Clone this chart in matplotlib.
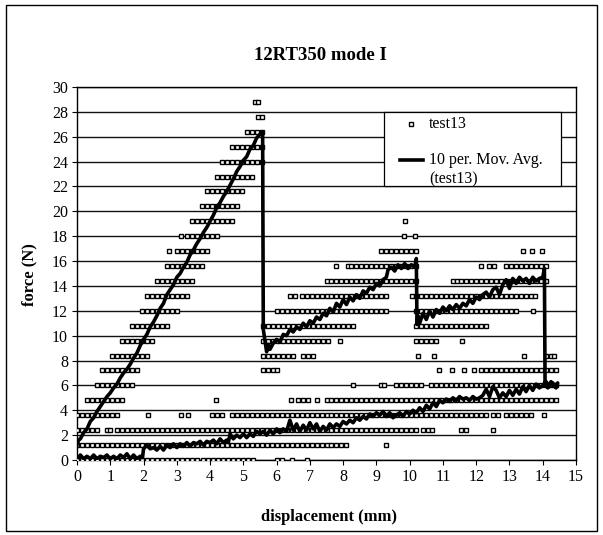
import matplotlib
matplotlib.use("Agg")
from matplotlib import pyplot as plt
from matplotlib.patches import Rectangle

SERIF = ["Liberation Serif", "DejaVu Serif"]

# quantised load-cell levels (N) and the displacements (mm) where test13 samples sit on them
force_levels = [0.0, 1.2, 2.4, 3.6, 4.8, 6.0, 7.2, 8.4, 9.6, 10.8, 12.0, 13.2,
                14.4, 15.6, 16.8, 18.0, 19.2, 20.4, 21.6, 22.8, 24.0, 25.2, 26.4, 27.6, 28.8]
x_by_level = [
    # 0.0
    [0, .15, .3, .45, .6, .75, .9, 1.05, 1.2, 1.35, 1.5, 1.65, 1.8, 1.95, 2.1, 2.25, 2.4, 2.55, 2.7,
     2.85, 3.0, 3.15, 3.3, 3.45, 3.6, 3.8, 3.95, 4.1, 4.25, 4.4, 4.55, 4.7, 4.85, 5.0, 5.15, 5.3,
     6.0, 6.15, 6.45, 6.9],
    # 1.2
    [0, .15, .3, .45, .6, .75, .9, 1.05, 1.2, 1.35, 1.5, 1.65, 1.8, 1.95, 2.1, 2.25, 2.4, 2.55, 2.7,
     2.85, 3.0, 3.15, 3.3, 3.45, 3.6, 3.75, 3.9, 4.05, 4.2, 4.35, 4.5, 4.65, 4.8, 4.95, 5.1, 5.25,
     5.4, 5.55, 5.7, 5.85, 6.0, 6.15, 6.3, 6.45, 6.6, 6.75, 6.9, 7.05, 7.2, 7.35, 7.5, 7.65, 7.8,
     7.95, 8.1, 9.3],
    # 2.4
    [0, .15, .3, .45, .6, .9, 1.0, 1.2, 1.35, 1.5, 1.65, 1.8, 1.95, 2.1, 2.25, 2.4, 2.55, 2.7, 2.85,
     3.0, 3.15, 3.3, 3.45, 3.6, 3.75, 3.9, 4.05, 4.2, 4.35, 4.5, 4.65, 4.8, 4.95, 5.1, 5.25, 5.4,
     5.55, 5.7, 5.85, 6.0, 6.15, 6.3, 6.45, 6.6, 6.75, 6.9, 7.05, 7.2, 7.35, 7.5, 7.65, 7.8, 7.95,
     8.1, 8.25, 8.4, 8.55, 8.7, 8.85, 9.0, 9.15, 9.3, 9.45, 9.6, 9.75, 9.9, 10.05, 10.2,
     10.4, 10.55, 10.67, 11.55, 11.7, 12.5],
    # 3.6
    [0, .15, .3, .45, .6, .75, .9, 1.05, 1.2, 2.13, 3.12, 3.35, 4.05, 4.2, 4.35,
     4.65, 4.8, 4.95, 5.1, 5.25, 5.4, 5.55, 5.7, 5.85, 6.0, 6.15, 6.3, 6.45, 6.6, 6.75, 6.9, 7.05,
     7.2, 7.35, 7.5, 7.65, 7.8, 7.95, 8.1, 8.25, 8.4, 8.55, 8.7, 8.85, 9.0, 9.15, 9.3, 9.45, 9.6,
     9.75, 9.9, 10.05, 10.2, 10.35, 10.5, 10.65, 10.8, 10.95, 11.1, 11.25, 11.4, 11.55, 11.7,
     11.85, 12.0, 12.15, 12.3, 12.5, 12.65, 12.9, 13.05, 13.2, 13.35, 13.5, 13.65, 14.05],
    # 4.8
    [.3, .45, .6, .75, .9, 1.05, 1.2, 1.35, 4.18, 6.44, 6.65, 6.8, 6.94, 7.22,
     7.5, 7.65, 7.8, 7.95, 8.1, 8.25, 8.4, 8.55, 8.7, 8.85, 9.0, 9.15, 9.3, 9.45, 9.6, 9.75, 9.9,
     10.05, 10.2, 10.35, 10.5, 10.65, 10.8, 10.95, 11.1, 11.25, 11.4, 11.55, 11.7, 11.85, 12.0,
     12.15, 12.3, 12.45, 12.6, 12.75, 12.9, 13.05, 13.2, 13.35, 13.5, 13.65, 13.8, 13.95, 14.1,
     14.25, 14.4],
    # 6.0
    [.6, .75, .9, 1.05, 1.2, 1.35, 1.5, 1.65, 8.3, 9.13, 9.22, 9.58, 9.75, 9.9, 10.05, 10.2, 10.35,
     10.65, 10.8, 10.95, 11.1, 11.25, 11.4, 11.55, 11.7, 11.85, 12.0, 12.15, 12.3, 12.45, 12.6,
     12.75, 12.9, 13.05, 13.2, 13.35, 13.5, 13.65, 13.8, 13.95, 14.1, 14.25, 14.4],
    # 7.2
    [.75, .9, 1.05, 1.2, 1.35, 1.5, 1.65, 1.8, 5.6, 5.75, 5.9, 6.0, 10.87, 11.27, 11.63, 11.93,
     12.15, 12.3, 12.45, 12.6, 12.75, 12.9, 13.05, 13.2, 13.35, 13.5, 13.65, 13.8, 13.95, 14.1,
     14.25, 14.4],
    # 8.4
    [1.05, 1.2, 1.35, 1.5, 1.65, 1.8, 1.95, 2.1, 5.6, 5.75, 5.9, 6.05, 6.2, 6.35, 6.5, 6.8, 6.95,
     7.1, 10.25, 10.72, 13.45, 14.1, 14.25, 14.35],
    # 9.6
    [1.35, 1.5, 1.65, 1.8, 1.95, 2.1, 2.25, 5.6, 5.75, 5.9, 6.05, 6.2, 6.35, 6.5, 6.65, 6.8, 6.95,
     7.1, 7.25, 7.4, 7.55, 7.92, 10.2, 10.35, 10.5, 10.65, 10.8, 11.56],
    # 10.8
    [1.65, 1.8, 1.95, 2.1, 2.25, 2.4, 2.55, 2.7, 5.6, 5.75, 5.9, 6.05, 6.2, 6.35, 6.5, 6.65, 6.8,
     6.95, 7.1, 7.25, 7.4, 7.55, 7.7, 7.85, 8.0, 8.15, 8.3, 10.2, 10.35, 10.5, 10.65, 10.8, 10.95,
     11.1, 11.25, 11.4, 11.55, 11.7, 11.85, 12.0, 12.15, 12.3],
    # 12.0
    [1.95, 2.1, 2.25, 2.4, 2.55, 2.7, 2.85, 3.0, 6.0, 6.15, 6.3, 6.45, 6.6, 6.75, 6.9, 7.05, 7.2,
     7.35, 7.5, 7.65, 7.8, 7.95, 8.1, 8.25, 8.4, 8.55, 8.7, 8.85, 9.0, 9.15, 9.3, 10.2, 10.35,
     10.5, 10.65, 10.8, 10.95, 11.1, 11.25, 11.4, 11.55, 11.7, 11.85, 12.0, 12.15, 12.3, 12.45,
     12.6, 12.75, 12.9, 13.06, 13.2, 13.72],
    # 13.2
    [2.1, 2.25, 2.4, 2.55, 2.7, 2.85, 3.0, 3.15, 3.3, 6.4, 6.55, 6.75, 6.9, 7.05, 7.2, 7.35, 7.5,
     7.65, 7.8, 7.95, 8.1, 8.25, 8.4, 8.55, 8.7, 8.85, 9.0, 9.15, 9.3, 10.06, 10.2, 10.35, 10.5,
     10.65, 10.8, 10.95, 11.1, 11.25, 11.4, 11.55, 11.7, 11.85, 12.0, 12.15, 12.3, 12.45, 12.6,
     12.75, 12.9, 13.05, 13.2, 13.35, 13.5, 13.65, 13.76],
    # 14.4
    [2.4, 2.55, 2.7, 2.85, 3.0, 3.15, 3.3, 3.45, 7.5, 7.65, 7.8, 7.95, 8.1, 8.25, 8.4, 8.55, 8.7,
     8.85, 9.0, 9.15, 9.3, 9.45, 9.6, 9.75, 9.9, 10.05, 10.2, 11.3, 11.42, 11.55, 11.7, 11.85,
     12.0, 12.15, 12.3, 12.45, 12.6, 12.75, 12.9, 13.05, 13.2, 13.35, 13.5, 13.65, 13.8, 13.95,
     14.1],
    # 15.6
    [2.7, 2.85, 3.0, 3.15, 3.3, 3.45, 3.6, 3.75, 7.8, 8.15, 8.25, 8.4, 8.55, 8.7, 8.85, 9.0, 9.15,
     9.3, 9.45, 9.6, 9.75, 9.9, 10.05, 10.2, 12.14, 12.37, 12.55, 12.9, 13.05, 13.2, 13.35, 13.5,
     13.65, 13.8, 13.95, 14.1],
    # 16.8
    [2.77, 3.0, 3.15, 3.3, 3.45, 3.6, 3.75, 3.9, 9.15, 9.3, 9.45, 9.6, 9.75, 9.9, 10.05, 10.2,
     13.4, 13.67, 13.98],
    # 18.0
    [3.12, 3.3, 3.45, 3.6, 3.75, 3.9, 4.05, 4.2, 9.83, 10.17],
    # 19.2
    [3.45, 3.6, 3.75, 3.9, 4.05, 4.2, 4.35, 4.5, 4.65, 9.86],
    # 20.4
    [3.75, 3.9, 4.05, 4.2, 4.35, 4.5, 4.65, 4.8],
    # 21.6
    [3.9, 4.05, 4.2, 4.35, 4.5, 4.65, 4.8, 4.95],
    # 22.8
    [4.2, 4.35, 4.5, 4.65, 4.8, 4.95, 5.1, 5.25],
    # 24.0
    [4.35, 4.5, 4.65, 4.8, 4.95, 5.1, 5.25, 5.4, 5.55],
    # 25.2
    [4.65, 4.8, 4.95, 5.1, 5.25, 5.4, 5.55],
    # 26.4
    [5.1, 5.25, 5.4, 5.55],
    # 27.6
    [5.45, 5.55],
    # 28.8
    [5.35, 5.45],
]

# 10-period moving average (test13), traced: load -> 3 crack jumps -> unload back to 0
avg_curve = [
    (0.0, 1.2), (0.05, 1.6), (0.1, 1.7), (0.2, 2.2), (0.3, 2.5), (0.4, 3.1), (0.5, 3.4), (0.6, 3.9),
    (0.7, 4.3), (0.8, 4.7), (0.9, 5.1), (1.0, 5.4), (1.1, 5.8), (1.2, 6.1), (1.3, 6.6), (1.4, 7.0),
    (1.5, 7.3), (1.6, 7.7), (1.7, 8.2), (1.8, 8.6), (1.9, 9.2), (2.0, 9.7), (2.1, 10.1), (2.2, 10.7),
    (2.3, 11.1), (2.4, 11.6), (2.5, 12.2), (2.6, 12.6), (2.7, 13.3), (2.8, 13.7), (2.9, 14.1),
    (3.0, 14.7), (3.1, 15.0), (3.2, 15.5), (3.3, 15.9), (3.4, 16.5), (3.5, 16.9), (3.6, 17.4),
    (3.7, 17.8), (3.8, 18.3), (3.9, 18.7), (4.0, 19.2), (4.1, 19.7), (4.2, 20.3), (4.3, 20.7),
    (4.4, 21.2), (4.5, 21.6), (4.6, 22.1), (4.7, 22.6), (4.8, 23.2), (4.9, 23.6), (5.0, 24.1),
    (5.1, 24.4), (5.2, 25.0), (5.3, 25.3), (5.4, 25.9), (5.5, 26.2), (5.58, 26.4),
    (5.6, 10.5), (5.65, 9.6), (5.7, 8.7), (5.75, 9.3), (5.8, 8.9), (5.9, 9.4), (6.0, 9.7),
    (6.1, 9.5), (6.2, 10.1), (6.3, 10.0), (6.4, 10.5), (6.5, 10.3), (6.6, 10.7), (6.7, 10.5),
    (6.8, 11.0), (6.9, 10.7), (7.0, 11.2), (7.1, 11.0), (7.2, 11.5), (7.3, 11.3), (7.4, 11.8),
    (7.5, 11.6), (7.6, 12.2), (7.7, 11.9), (7.8, 12.6), (7.9, 12.3), (8.0, 12.9), (8.1, 12.5),
    (8.2, 13.1), (8.3, 12.8), (8.4, 13.3), (8.5, 13.0), (8.6, 13.6), (8.7, 13.4), (8.8, 13.9),
    (8.9, 13.7), (9.0, 14.2), (9.1, 14.0), (9.2, 14.5), (9.3, 14.7), (9.35, 15.3), (9.45, 15.5),
    (9.55, 15.2), (9.65, 15.7), (9.75, 15.4), (9.85, 15.8), (9.95, 15.4), (10.05, 15.7),
    (10.15, 15.5), (10.2, 16.2),
    (10.22, 10.9), (10.25, 11.6), (10.3, 11.0), (10.4, 11.8), (10.5, 11.3), (10.6, 12.0),
    (10.7, 11.5), (10.8, 12.1), (10.9, 11.8), (11.0, 12.3), (11.1, 12.0), (11.2, 12.4),
    (11.3, 12.1), (11.4, 12.5), (11.5, 12.2), (11.6, 12.6), (11.7, 12.4), (11.8, 12.9),
    (11.9, 12.6), (12.0, 13.1), (12.1, 12.9), (12.2, 13.3), (12.3, 13.5), (12.4, 13.1),
    (12.5, 13.7), (12.6, 13.9), (12.7, 13.3), (12.8, 14.1), (12.9, 14.5), (13.0, 13.8),
    (13.1, 14.6), (13.2, 14.2), (13.3, 14.7), (13.4, 14.4), (13.5, 14.6), (13.6, 14.2),
    (13.7, 14.7), (13.8, 14.4), (13.9, 14.6), (14.0, 14.7), (14.05, 15.4),
    (14.07, 6.1), (14.15, 5.8), (14.25, 6.3), (14.35, 5.9), (14.45, 6.2),
    (14.4, 5.8), (14.3, 6.2), (14.2, 5.9), (14.1, 6.3), (14.0, 6.0), (13.9, 5.8), (13.8, 6.1),
    (13.7, 5.6), (13.6, 6.0), (13.5, 5.5), (13.4, 5.9), (13.3, 5.3), (13.2, 5.7), (13.1, 5.2),
    (13.0, 5.6), (12.9, 5.1), (12.8, 5.4), (12.7, 5.0), (12.6, 5.6), (12.5, 5.9), (12.4, 5.1),
    (12.3, 5.7), (12.2, 5.2), (12.1, 5.0), (12.0, 4.9), (11.9, 5.1), (11.8, 4.8), (11.7, 5.0),
    (11.6, 4.9), (11.5, 5.1), (11.4, 4.8), (11.3, 5.0), (11.2, 4.7), (11.1, 4.9), (11.0, 4.6),
    (10.9, 4.8), (10.8, 4.3), (10.7, 4.6), (10.6, 4.1), (10.5, 4.4), (10.4, 3.9), (10.3, 4.2),
    (10.2, 3.8), (10.1, 4.0), (10.0, 3.7), (9.9, 3.9), (9.8, 3.5), (9.7, 3.8), (9.6, 3.6),
    (9.5, 3.4), (9.4, 3.8), (9.3, 3.5), (9.2, 3.9), (9.1, 3.6), (9.0, 3.8), (8.9, 3.5), (8.8, 3.7),
    (8.7, 3.3), (8.6, 3.5), (8.5, 3.2), (8.4, 3.4), (8.3, 3.0), (8.2, 3.2), (8.1, 2.9), (8.0, 3.1),
    (7.9, 2.7), (7.8, 2.9), (7.7, 2.6), (7.6, 2.9), (7.5, 2.4), (7.4, 2.7), (7.3, 2.3), (7.2, 2.9),
    (7.1, 2.5), (7.0, 3.0), (6.9, 2.4), (6.8, 2.8), (6.7, 2.3), (6.6, 2.9), (6.5, 2.4), (6.4, 3.2),
    (6.3, 2.3), (6.2, 2.5), (6.1, 2.2), (6.0, 2.5), (5.9, 2.1), (5.8, 2.4), (5.7, 2.0), (5.6, 2.3),
    (5.5, 2.1), (5.4, 2.3), (5.3, 1.9), (5.2, 2.1), (5.1, 1.8), (5.0, 2.1), (4.9, 1.8), (4.8, 2.0),
    (4.7, 1.7), (4.6, 2.1), (4.55, 1.4), (4.5, 1.6), (4.4, 1.4), (4.3, 1.7), (4.2, 1.3), (4.1, 1.6),
    (4.0, 1.4), (3.9, 1.5), (3.8, 1.2), (3.7, 1.5), (3.6, 1.3), (3.5, 1.4), (3.4, 1.1), (3.3, 1.4),
    (3.2, 1.1), (3.1, 1.3), (3.0, 1.0), (2.9, 1.3), (2.8, 1.0), (2.7, 1.2), (2.6, 0.8), (2.5, 1.1),
    (2.4, 0.8), (2.3, 1.0), (2.2, 0.9), (2.1, 1.2), (2.0, 0.9), (1.97, 0.2), (1.9, 0.3), (1.8, 0.1),
    (1.7, 0.4), (1.6, 0.1), (1.5, 0.5), (1.4, 0.2), (1.3, 0.4), (1.2, 0.1), (1.1, 0.3), (1.0, 0.1),
    (0.9, 0.4), (0.8, 0.2), (0.7, 0.3), (0.6, 0.1), (0.5, 0.4), (0.4, 0.1), (0.3, 0.3), (0.2, 0.1),
    (0.1, 0.4), (0.05, 0.2), (0.0, 0.3),
]

x_ticks = list(range(0, 16))
y_ticks = list(range(0, 31, 2))

W, H = 603, 535
fig = plt.figure(figsize=(W / 100, H / 100), dpi=100)
ax = fig.add_axes([77 / W, 1 - 460 / H, (576 - 77) / W, (460 - 87) / H])

for lv, xs in zip(force_levels, x_by_level):
    ax.plot(xs, [lv] * len(xs), ls="none", marker="s", ms=3.5, mfc="white", mec="black",
            mew=1.0, zorder=3)
ma_x = [p[0] for p in avg_curve]; ma_y = [p[1] for p in avg_curve]
ax.plot(ma_x, ma_y, color="black", lw=2.6, zorder=4)

ax.set_xlim(0, 15); ax.set_ylim(0, 30)
ax.set_xticks(x_ticks); ax.set_yticks(y_ticks)
ax.set_xticklabels([str(t) for t in x_ticks], family=SERIF, fontsize=11.5)
ax.set_yticklabels([str(t) for t in y_ticks], family=SERIF, fontsize=11.5)
ax.tick_params(direction="out", length=3.5, width=0.8, pad=3, colors="black")
ax.grid(True, axis="y", color="#111111", lw=1.0)
ax.set_axisbelow(True)
for s in ax.spines.values():
    s.set_color("black"); s.set_linewidth(1.0)

# legend box drawn by hand (sits between the 22 and 28 gridlines)
ax.add_patch(Rectangle((9.22, 22), 14.55 - 9.22, 6, facecolor="white", edgecolor="black",
                       lw=0.9, zorder=6))
tr = ax.transAxes
ax.plot([0.669], [0.902], transform=tr, ls="none", marker="s", ms=3.5, mfc="white",
        mec="black", mew=1.0, zorder=7)
ax.text(0.705, 0.902, "test13", transform=tr, family=SERIF, fontsize=11.5, va="center", zorder=7)
ax.plot([0.647, 0.693], [0.804, 0.804], transform=tr, color="black", lw=2.6, zorder=7)
ax.text(0.705, 0.804, "10 per. Mov. Avg.", transform=tr, family=SERIF, fontsize=11.5,
        va="center", zorder=7)
ax.text(0.705, 0.753, "(test13)", transform=tr, family=SERIF, fontsize=11.5, va="center", zorder=7)

fig.text(320 / W, 1 - 55 / H, "12RT350 mode I", family=SERIF, fontsize=13.5, weight="bold",
         ha="center", va="center")
fig.text(329 / W, 1 - 517 / H, "displacement (mm)", family=SERIF, fontsize=12, weight="bold",
         ha="center", va="center")
fig.text(29 / W, 1 - 275 / H, "force (N)", family=SERIF, fontsize=12, weight="bold",
         ha="center", va="center", rotation=90)

fig.patches.append(Rectangle((6 / W, 4 / H), (597 - 6) / W, (531 - 5) / H, transform=fig.transFigure,
                             fill=False, edgecolor="black", lw=1.0))

fig.savefig("out.png", dpi=100)
